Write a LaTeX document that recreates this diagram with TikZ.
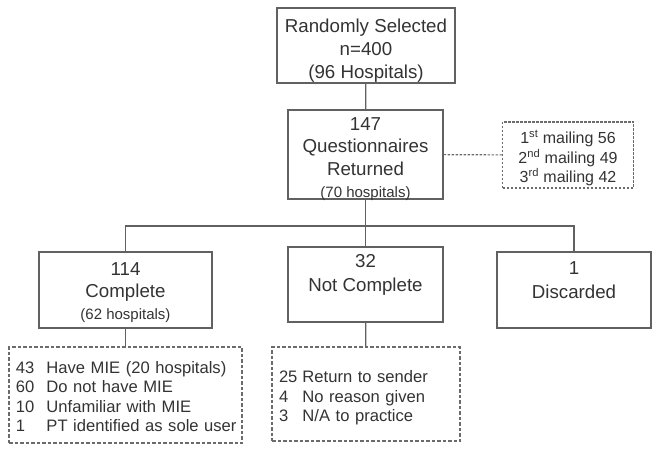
\documentclass[tikz,border=0pt]{standalone}
\usepackage{fontspec}
\setmainfont{Liberation Sans}
\newcommand{\sm}{\fontsize{15}{19}\selectfont}
\renewcommand{\arraystretch}{0.97}
\begin{document}
\begin{tikzpicture}[x=1pt,y=-1pt,
	every node/.style={text=black!80,font=\fontsize{18.7}{23.3}\selectfont,align=center,inner sep=0pt},
	box/.style={draw=black!62,line width=1.3pt},
	lst/.style={draw=black!58,line width=1.2pt,dash pattern=on 3.5pt off 2pt,font=\fontsize{16.6}{20}\selectfont,align=left,inner xsep=7pt},
	edge/.style={draw=black!62,line width=1.3pt}]
		\useasboundingbox (0,0) rectangle (660,454);
		% boxes
		\node[box,minimum width=178,minimum height=75,text height=67pt,text depth=0pt] (sel) at (366,45.5){Randomly Selected\\n=400\\(96 Hospitals)};
		\node[box,minimum width=155,minimum height=89,text height=86pt,text depth=0pt,font=\fontsize{18.7}{22.4}\selectfont] (ret) at (365.5,154.5){147\\Questionnaires\\Returned\\{\sm (70 hospitals)}};
		\node[draw=black!58,line width=1.1pt,dash pattern=on 2.5pt off 1.5pt,minimum width=131,minimum height=66,text height=56pt,text depth=0pt,font=\fontsize{16}{19.5}\selectfont] (mail) at (568,155){1\textsuperscript{st} mailing 56\\2\textsuperscript{nd} mailing 49\\3\textsuperscript{rd} mailing 42};
		\node[box,minimum width=173,minimum height=76,text height=59pt,text depth=0pt,font=\fontsize{18.7}{22}\selectfont] (comp) at (125.5,290){114\\Complete\\{\sm (62 hospitals)}};
		\node[box,minimum width=155,minimum height=75,text depth=23pt] (nc) at (365.5,284.5){32\\Not Complete};
		\node[box,minimum width=154,minimum height=76,text depth=20pt] (disc) at (574,290){1\\Discarded};
		% lists
		\node[lst,text width=219,minimum height=96,text depth=27pt] (l1) at (125.5,395){%
			\begin{tabular}{@{}l@{\hspace{12pt}}l@{}}
			43 & Have MIE (20 hospitals)\\
			60 & Do not have MIE\\
			10 & Unfamiliar with MIE\\
			1 & PT identified as sole user
			\end{tabular}};
		\node[lst,text width=174,minimum height=94,text depth=15.75pt] (l2) at (366,394){%
			\begin{tabular}{@{}l@{\hspace{5pt}}l@{}}
			25 & Return to sender\\
			4 & No reason given\\
			3 & N/A to practice
			\end{tabular}};
		% connectors
		\coordinate (jn) at (365.5,226);
		\draw[edge] (sel)--(ret);
		\draw[draw=black!58,line width=1.1pt,dash pattern=on 2.5pt off 1.5pt] (ret)--(mail);
		\draw[edge] (ret.south)--(jn)--(nc.north);
		\draw[edge] (comp.north)|-(jn)-|(disc.north);
		\draw[edge] (comp)--(l1);
		\draw[edge] (nc)--(l2);
		\end{tikzpicture}
\end{document}
